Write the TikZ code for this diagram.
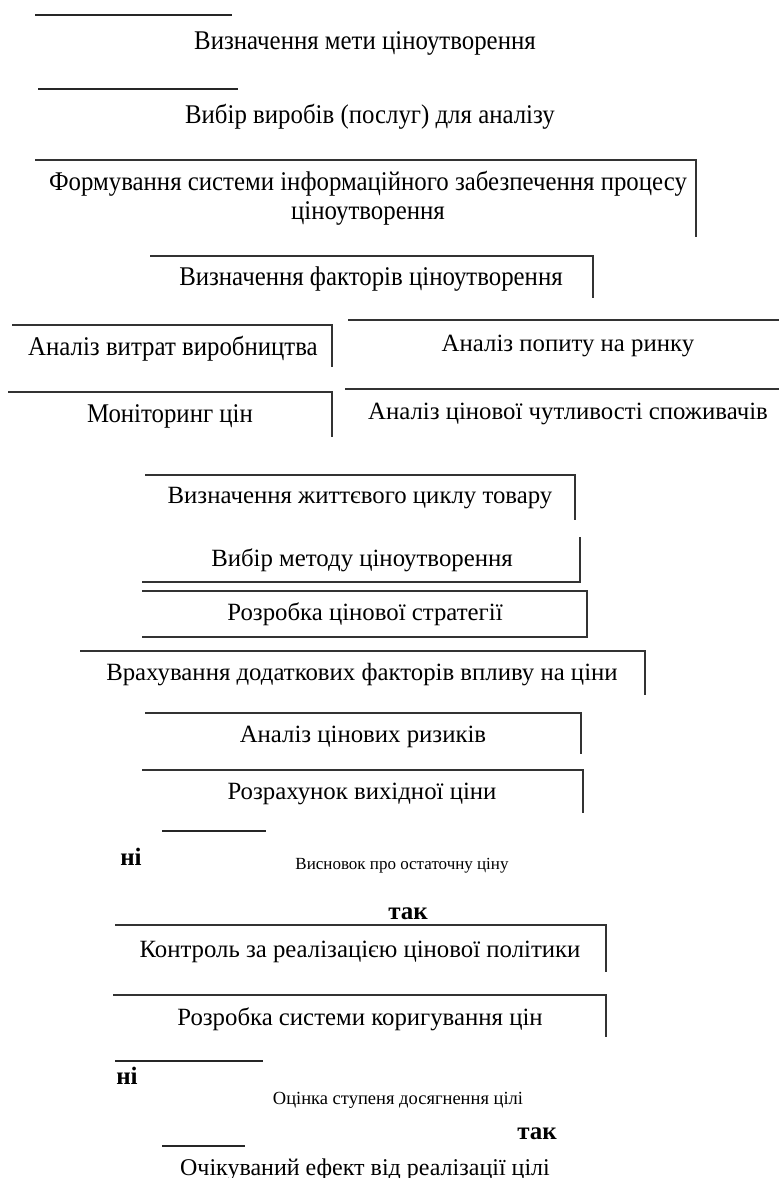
\documentclass[tikz,border=0pt]{standalone}
\usepackage{fontspec}
\setmainfont{Liberation Serif}
\newfontfamily\narrowserif[FakeStretch=0.92]{Liberation Serif}

\begin{document}
\begin{tikzpicture}[x=1pt,y=-1pt,
    txt/.style={inner sep=0pt, font=\fontsize{24.8}{29}\selectfont},
    ntxt/.style={inner sep=0pt, align=center, font=\narrowserif\fontsize{27}{29}\selectfont},
    small/.style={inner sep=0pt, font=\fontsize{17}{20}\selectfont},
    answer/.style={inner sep=0pt, font=\bfseries\fontsize{25}{28}\selectfont},
    rim/.style={line width=1.3pt, draw=black!80},
    thickrim/.style={line width=2.2pt, draw=black!85}]
    \useasboundingbox (0,0) rectangle (779,1178);

    % Goal and products
    \draw[thickrim] (35,15) -- (232,15);
    \node[ntxt] (goal) at (365,43) {Визначення мети ціноутворення};
    \draw[thickrim] (38,89) -- (238,89);
    \node[ntxt] (products) at (370,117) {Вибір виробів (послуг) для аналізу};

    % Information system
    \draw[rim] (35,160) -- (696,160) -- (696,237);
    \node[ntxt] (infosys) at (368,198) {Формування системи інформаційного забезпечення процесу\\ціноутворення};

    % Factors
    \draw[rim] (150,256) -- (593,256) -- (593,298);
    \node[ntxt] (factors) at (371,279) {Визначення факторів ціноутворення};

    % Analysis pairs
    \draw[rim] (12,325) -- (332,325) -- (332,367);
    \node[ntxt] (costs) at (173,349) {Аналіз витрат виробництва};
    \draw[rim] (348,320) -- (779,320);
    \node[txt] (demand) at (568,346) {Аналіз попиту на ринку};
    \draw[rim] (8,392) -- (332,392) -- (332,437);
    \node[ntxt] (monitor) at (170,416) {Моніторинг цін};
    \draw[rim] (345,389) -- (779,389);
    \node[txt] (sensitivity) at (568,414) {Аналіз цінової чутливості споживачів};

    % Strategy steps
    \draw[rim] (145,475) -- (575,475) -- (575,520);
    \node[txt] (lifecycle) at (360,498) {Визначення життєвого циклу товару};
    \draw[rim] (142,582) -- (580,582) -- (580,537);
    \node[txt] (method) at (362,560) {Вибір методу ціноутворення};
    \draw[rim] (142,591) -- (587,591) -- (587,637) -- (142,637);
    \node[txt] (strategy) at (365,614) {Розробка цінової стратегії};
    \draw[rim] (80,651) -- (645,651) -- (645,695);
    \node[txt] (extra) at (362,675) {Врахування додаткових факторів впливу на ціни};
    \draw[rim] (145,713) -- (581,713) -- (581,754);
    \node[txt] (risks) at (363,737) {Аналіз цінових ризиків};
    \draw[rim] (142,770) -- (583,770) -- (583,813);
    \node[txt] (baseprice) at (362,794) {Розрахунок вихідної ціни};

    % First decision
    \draw[thickrim] (162,831) -- (266,831);
    \node[answer] (no1) at (131,857) {ні};
    \node[small] (decision1) at (402,866) {Висновок про остаточну ціну};
    \node[answer] (yes1) at (408,914) {так};

    % Control
    \draw[rim] (115,925) -- (606,925) -- (606,972);
    \node[txt] (control) at (360,952) {Контроль за реалізацією цінової політики};
    \draw[rim] (113,995) -- (606,995) -- (606,1037);
    \node[txt] (correction) at (360,1019) {Розробка системи коригування цін};

    % Second decision
    \draw[thickrim] (115,1061) -- (263,1061);
    \node[answer] (no2) at (127,1076) {ні};
    \node[small, font=\fontsize{18.5}{21}\selectfont] (decision2) at (398,1100) {Оцінка ступеня досягнення цілі};
    \node[answer] (yes2) at (537,1134) {так};

    % Effect
    \draw[thickrim] (162,1146) -- (245,1146);
    \node[txt, font=\fontsize{24}{28}\selectfont] (effect) at (365,1170) {Очікуваний ефект від реалізації цілі};
\end{tikzpicture}
\end{document}
